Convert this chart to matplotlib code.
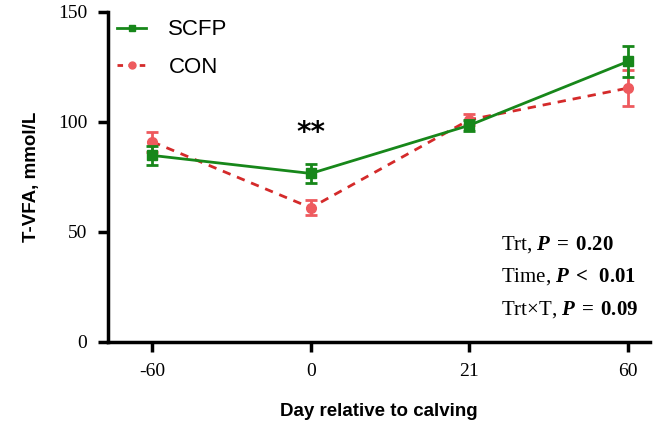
import matplotlib
matplotlib.use("Agg")
from matplotlib import pyplot as plt

days = ["-60", "0", "21", "60"]
scfp = [84.8, 76.6, 98.5, 127.5]
scfp_se = [4.4, 4.3, 2.5, 7.0]
con = [91.0, 61.0, 101.0, 115.4]
con_se = [4.6, 3.4, 2.5, 8.3]
stats = [r"Trt, $\mathbfit{P}\mathbf{\;{=}\;0.20}$",
         r"Time, $\mathbfit{P}\mathbf{\;{<}\;\;0.01}$",
         r"Trt$\times$T, $\mathbfit{P}\mathbf{\;{=}\;0.09}$"]

plt.rcParams["mathtext.fontset"] = "custom"
plt.rcParams["mathtext.rm"] = "Liberation Serif"
plt.rcParams["mathtext.bf"] = "Liberation Serif:bold"
plt.rcParams["mathtext.it"] = "Liberation Serif:italic"
plt.rcParams["mathtext.bfit"] = "Liberation Serif:bold:italic"

fig = plt.figure(figsize=(6.6, 4.28), dpi=100)
ax = fig.add_axes([0.164, 0.201, 0.821, 0.771])

x = list(range(len(days)))
green = "#17871a"
red_line = "#d42a2a"
red_mark = "#ee5a5e"

ax.errorbar(x, scfp, yerr=scfp_se, color=green, lw=2, marker="s", ms=7,
            capsize=4, capthick=2, elinewidth=2, zorder=3)
ax.errorbar(x, con, yerr=con_se, color=red_mark, lw=0, marker="o", ms=7,
            capsize=4, capthick=2, elinewidth=2, zorder=2)
ax.plot(x, con, color=red_line, lw=2, ls=(0, (3, 2.5)), zorder=2)
# legend handles
h1 = ax.plot([], [], color=green, lw=2, marker="s", ms=5)[0]
h2 = ax.plot([], [], color=red_line, lw=2, ls=(0, (2, 2)), marker="o",
             ms=5, mfc=red_mark, mec=red_mark)[0]
ax.legend([h1, h2], ["SCFP", "CON"], loc="upper left", frameon=False,
          prop={"family": "Liberation Sans", "size": 16}, handlelength=1.3,
          handletextpad=1.0, labelspacing=0.75,
          bbox_to_anchor=(-0.012, 1.025), borderaxespad=0.3)

ax.text(1, 95, "**", ha="center", va="center", fontsize=20, fontweight="bold")

for i, s in enumerate(stats):
    ax.text(0.725, 0.295 - i * 0.098, s, transform=ax.transAxes, fontsize=15,
            family="Liberation Serif", va="center")

ax.set_xlim(-0.278, 3.14)
ax.set_ylim(0, 150)
ax.set_xticks(x)
ax.set_xticklabels(days)
ax.set_yticks([0, 50, 100, 150])
for lab in ax.get_xticklabels() + ax.get_yticklabels():
    lab.set_family("Liberation Serif")
    lab.set_fontsize(14)
ax.spines["top"].set_visible(False)
ax.spines["right"].set_visible(False)
ax.spines["left"].set_linewidth(2.5)
ax.spines["bottom"].set_linewidth(2.5)
ax.tick_params(width=2.5, length=7, pad=8)

ax.set_xlabel("Day relative to calving", family="Liberation Sans",
              fontweight="bold", fontsize=13.5, labelpad=17)
ax.set_ylabel("T-VFA, mmol/L", family="Liberation Sans",
              fontweight="bold", fontsize=13.5, labelpad=13)

fig.savefig("out.png", dpi=100)
